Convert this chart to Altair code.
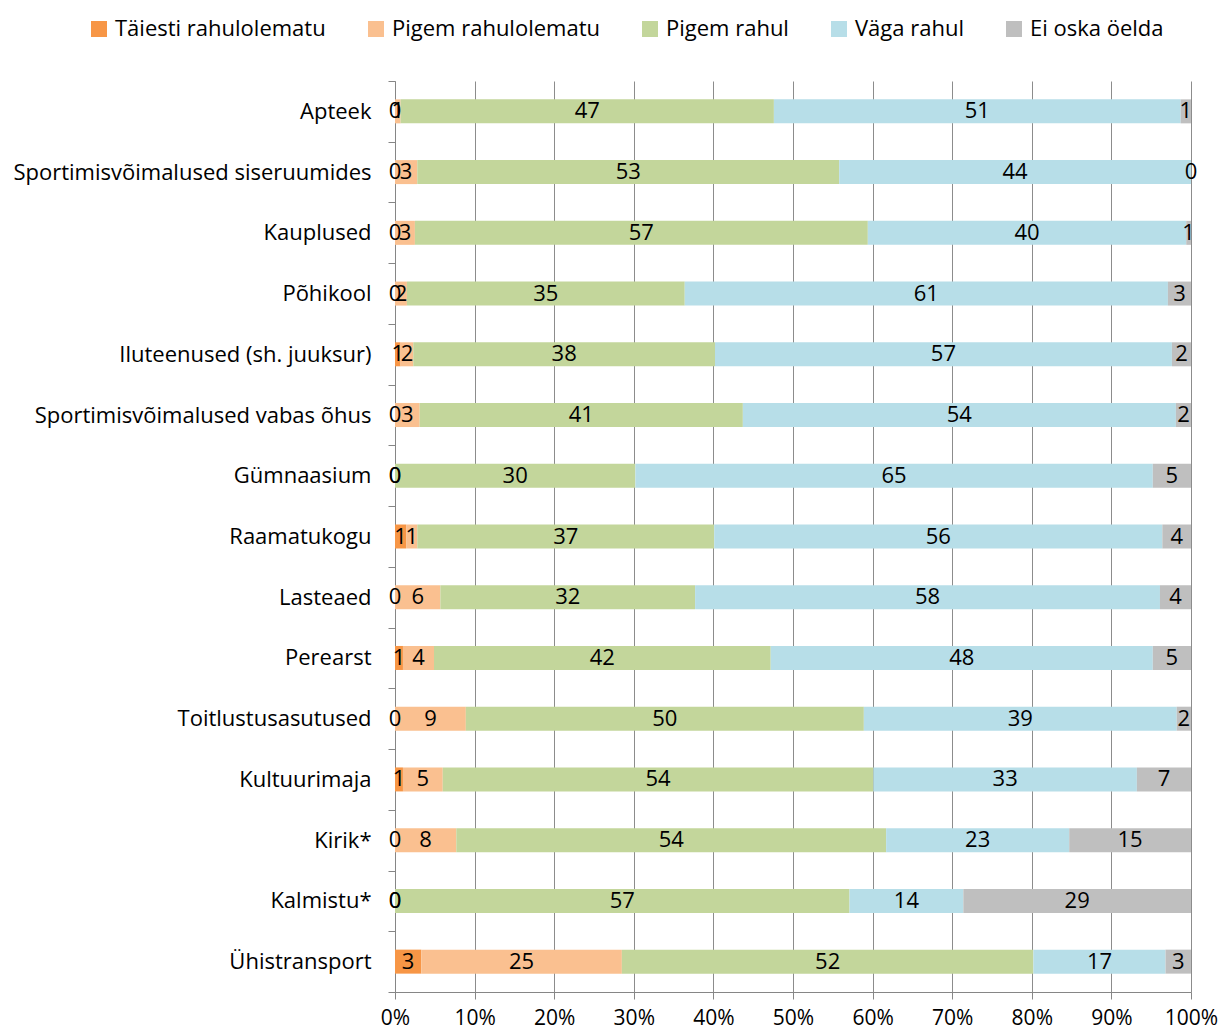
import altair as alt
import pandas as pd

categories = [
    "Apteek",
    "Sportimisvõimalused siseruumides",
    "Kauplused",
    "Põhikool",
    "Iluteenused (sh. juuksur)",
    "Sportimisvõimalused vabas õhus",
    "Gümnaasium",
    "Raamatukogu",
    "Lasteaed",
    "Perearst",
    "Toitlustusasutused",
    "Kultuurimaja",
    "Kirik*",
    "Kalmistu*",
    "Ühistransport",
]
series = ["Täiesti rahulolematu", "Pigem rahulolematu", "Pigem rahul", "Väga rahul", "Ei oska öelda"]
colors = ["#F79646", "#FAC090", "#C3D69B", "#B7DEE8", "#BFBFBF"]

taiesti_rahulolematu = [0, 0, 0, 0, 0.7, 0, 0, 1.4, 0, 1.0, 0, 1.0, 0, 0, 3.3]
pigem_rahulolematu = [0.7, 2.8, 2.5, 1.5, 1.6, 3.1, 0, 1.4, 5.7, 3.9, 8.9, 5.0, 7.7, 0, 25.2]
pigem_rahul = [46.9, 53.0, 56.9, 34.9, 37.9, 40.6, 30.2, 37.3, 32.0, 42.3, 50.0, 54.1, 54.0, 57.1, 51.7]
vaga_rahul = [51.1, 44.2, 40.0, 60.7, 57.4, 54.4, 65.0, 56.3, 58.4, 48.0, 39.3, 33.1, 23.0, 14.3, 16.6]
ei_oska_oelda = [1.3, 0, 0.6, 2.9, 2.4, 1.9, 4.8, 3.6, 3.9, 4.8, 1.8, 6.8, 15.3, 28.6, 3.2]

all_series = [taiesti_rahulolematu, pigem_rahulolematu, pigem_rahul, vaga_rahul, ei_oska_oelda]

rows = []
for si, (name, vals) in enumerate(zip(series, all_series)):
    for cat, v in zip(categories, vals):
        rows.append({"cat": cat, "series": name, "order": si, "value": v,
                     "label": str(int(v + 0.5))})
df = pd.DataFrame(rows)

FONT = "Open Sans"
FS = 22
AXIS_COLOR = "#868686"

base = alt.Chart(df).transform_stack(
    stack="value",
    groupby=["cat"],
    sort=[alt.SortField(field="order", order="ascending")],
    as_=["x0", "x1"],
).transform_calculate(mid="(datum.x0 + datum.x1) / 2")

y_enc = alt.Y(
    "cat:N",
    sort=categories,
    title=None,
    scale=alt.Scale(paddingInner=0, paddingOuter=0),
    axis=alt.Axis(
        tickBand="extent",
        ticks=True,
        tickSize=7,
        tickColor=AXIS_COLOR,
        domainColor=AXIS_COLOR,
        labelFont=FONT,
        labelFontSize=FS,
        labelColor="black",
        labelPadding=17,
        labelLimit=420,
        grid=False,
    ),
)

bars = base.mark_bar(height=24).encode(
    x=alt.X(
        "x0:Q",
        scale=alt.Scale(domain=[0, 100]),
        title=None,
        axis=alt.Axis(
            values=list(range(0, 101, 10)),
            labelExpr="datum.value + '%'",
            grid=True,
            gridColor="#8c8c8c",
            gridWidth=1,
            domainColor=AXIS_COLOR,
            tickColor=AXIS_COLOR,
            tickSize=7,
            labelFont=FONT,
            labelFontSize=21,
            labelColor="black",
            labelPadding=8,
            labelFlush=False,
        ),
    ),
    x2="x1:Q",
    y=y_enc,
    color=alt.Color(
        "series:N",
        scale=alt.Scale(domain=series, range=colors),
        legend=alt.Legend(
            title=None,
            orient="none",
            legendX=-307,
            legendY=-63,
            direction="horizontal",
            columns=5,
            symbolType="square",
            symbolSize=256,
            symbolStrokeWidth=0,
            symbolOpacity=1,
            labelFont=FONT,
            labelFontSize=FS,
            labelColor="black",
            labelLimit=400,
            labelOffset=5,
            columnPadding=39,
        ),
    ),
)

texts = base.mark_text(font=FONT, fontSize=FS, color="black", baseline="middle").encode(
    x=alt.X("mid:Q"),
    y=alt.Y("cat:N", sort=categories),
    text="label:N",
)

chart = alt.layer(bars, texts).properties(
    width=796,
    height=911,
    autosize="none",
    padding={"left": 387, "top": 73, "right": 27, "bottom": 40},
).configure_view(stroke=None)

chart.save("out.html", embed_options={"renderer": "svg", "actions": False})
